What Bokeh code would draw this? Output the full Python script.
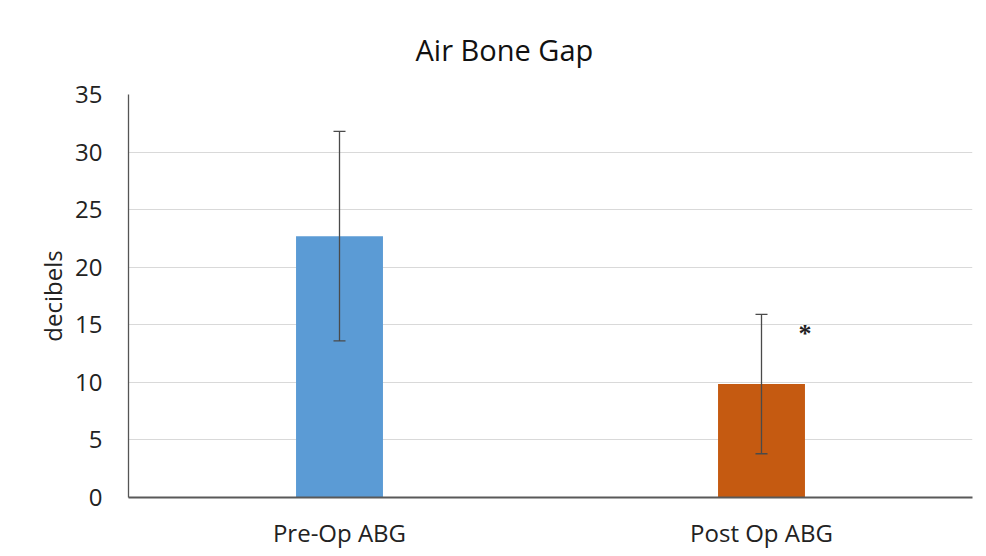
from bokeh.plotting import figure
from bokeh.models import ColumnDataSource, Whisker, TeeHead, SingleIntervalTicker
from bokeh.transform import dodge
from bokeh.embed import file_html
from bokeh.resources import INLINE

# ---- data ----
categories = ["Pre-Op ABG", "Post Op ABG"]
means = [22.7, 9.85]
sds = [9.1, 6.05]
colors = ["#5b9bd5", "#c55a11"]
star_category = ["Post Op ABG"]
star_y = [14.2]
title_text = "Air Bone Gap"
y_label = "decibels"

FONT = "Open Sans"

lower = [m - s for m, s in zip(means, sds)]
upper = [m + s for m, s in zip(means, sds)]
src = ColumnDataSource(dict(cat=categories, mean=means, lower=lower, upper=upper, color=colors))

p = figure(x_range=categories, y_range=(0, 35), width=986, height=556,
           output_backend="svg", toolbar_location=None,
           min_border_left=128, min_border_right=14, min_border_top=94, min_border_bottom=59)
p.outline_line_color = None
p.background_fill_color = "white"
p.border_fill_color = "white"
p.x_range.range_padding = 0

p.title.text = title_text
p.title.align = "left"
p.title.offset = 287
p.title.text_font = FONT
p.title.text_font_size = "29px"
p.title.text_font_style = "normal"
p.title.text_color = "#111111"
p.title.standoff = 50
p.title.vertical_align = "middle"

p.vbar(x="cat", top="mean", width=0.206, fill_color="color", line_color=None, source=src)

w = Whisker(source=src, base="cat", lower="lower", upper="upper",
            line_color="#4a4a4a", line_width=1.3, level="overlay",
            upper_head=TeeHead(size=12, line_color="#4a4a4a", line_width=1.3),
            lower_head=TeeHead(size=12, line_color="#4a4a4a", line_width=1.3))
p.add_layout(w)

star_src = ColumnDataSource(dict(cat=star_category, y=star_y, t=["*"]))
p.text(x=dodge("cat", 0.103, range=p.x_range), y="y", text="t", source=star_src,
       text_font_size="26px", text_font_style="bold", text_color="#222222",
       text_align="center", text_baseline="middle", text_font=FONT)

# axes
p.yaxis.ticker = SingleIntervalTicker(interval=5)
p.yaxis.axis_label = y_label
p.yaxis.axis_label_text_font = FONT
p.yaxis.axis_label_text_font_size = "24px"
p.yaxis.axis_label_text_font_style = "normal"
p.yaxis.axis_label_text_color = "#222222"
p.yaxis.axis_label_standoff = 3
p.yaxis.major_label_text_font = FONT
p.yaxis.major_label_text_font_size = "24px"
p.yaxis.major_label_text_color = "#222222"
p.yaxis.major_label_standoff = 20
p.yaxis.major_tick_line_color = None
p.yaxis.minor_tick_line_color = None
p.yaxis.axis_line_color = "#555555"
p.yaxis.axis_line_width = 1.3

p.xaxis.major_label_text_font = FONT
p.xaxis.major_label_text_font_size = "24px"
p.xaxis.major_label_text_color = "#222222"
p.xaxis.major_label_standoff = 12
p.xaxis.major_tick_line_color = None
p.xaxis.axis_line_color = "#595959"
p.xaxis.axis_line_width = 2

p.xgrid.grid_line_color = None
p.ygrid.grid_line_color = "#d9d9d9"
p.ygrid.grid_line_width = 1.2

open("out.html", "w").write(file_html(p, INLINE))
